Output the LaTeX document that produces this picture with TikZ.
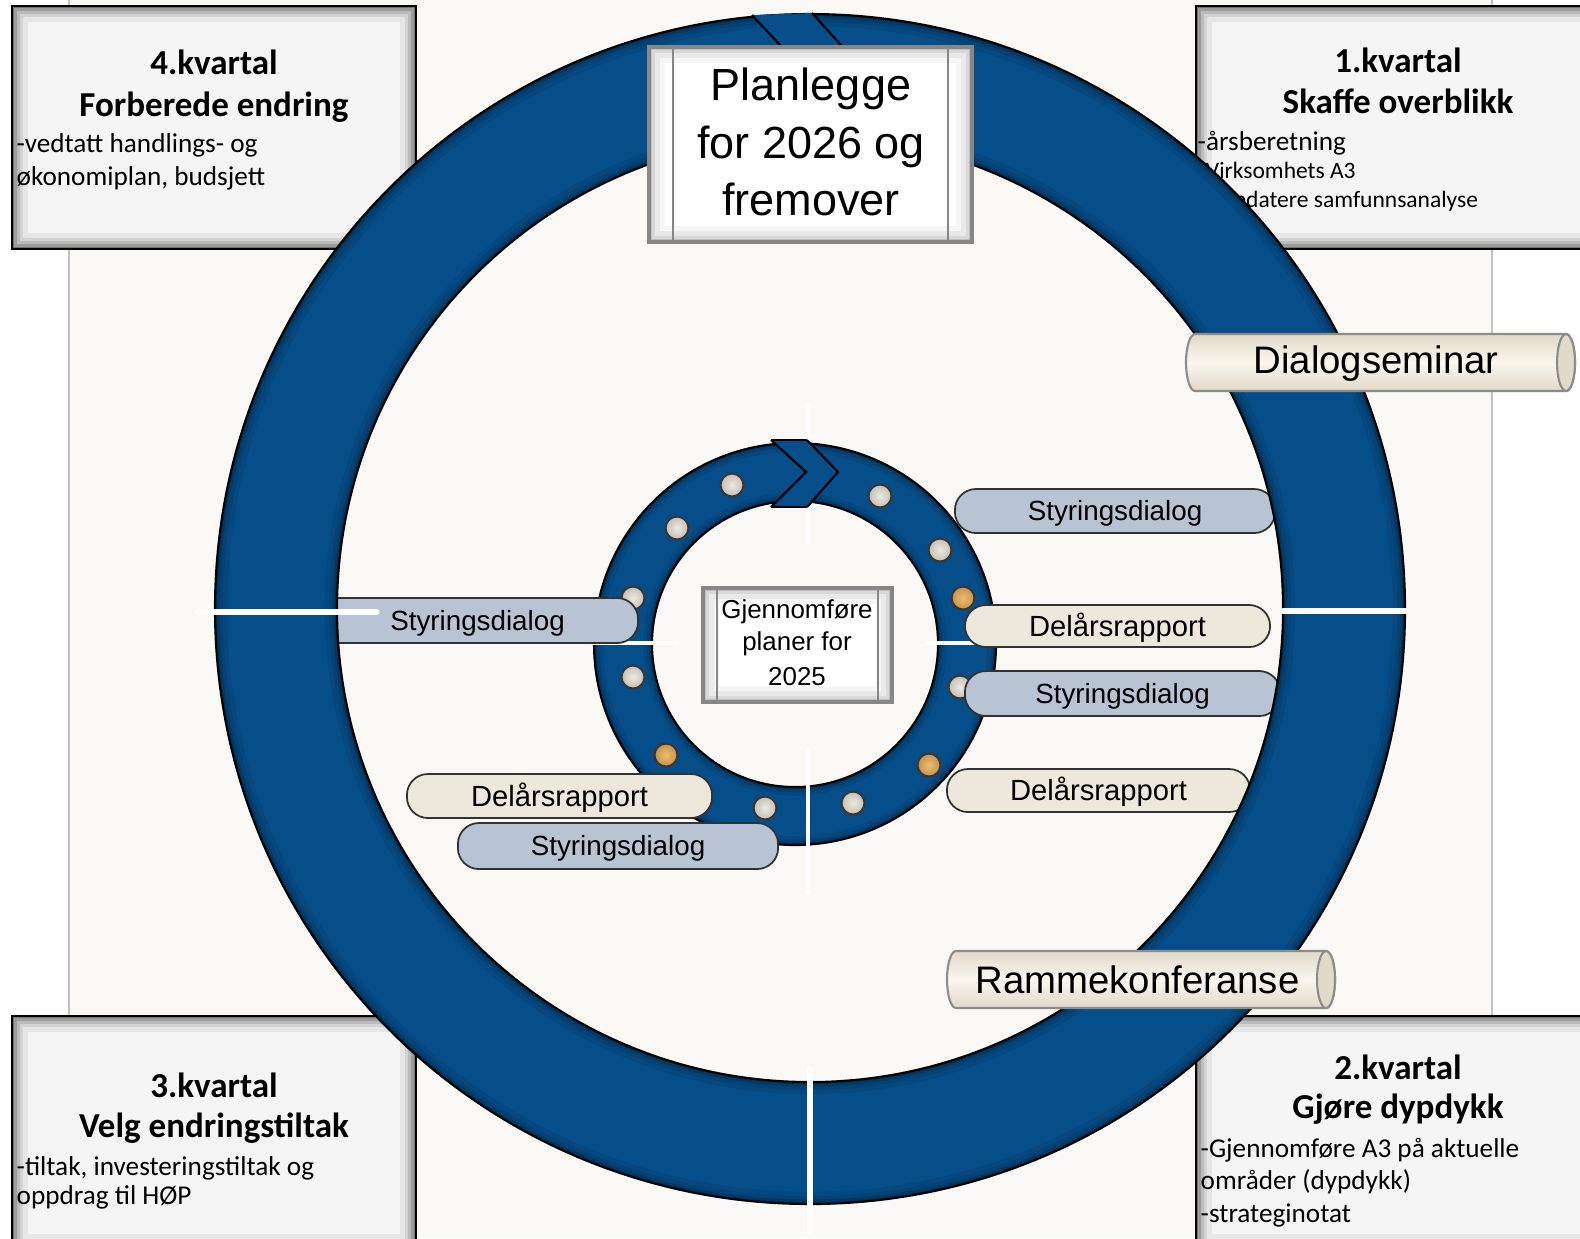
\documentclass[tikz,border=0pt]{standalone}
\usepackage{fontspec}
\setmainfont{Carlito}
\newfontfamily\sansv{Liberation Sans}
\definecolor{ringblue}{RGB}{6,78,138}
\definecolor{panel}{RGB}{250,249,245}
\definecolor{panelline}{RGB}{192,192,192}
\definecolor{pillblue}{RGB}{184,195,211}
\definecolor{pillbeige}{RGB}{236,232,220}
\definecolor{pilledge}{RGB}{50,50,50}
\definecolor{dotgrey}{RGB}{196,191,178}
\definecolor{dotlight}{RGB}{236,234,228}
\definecolor{dotorange}{RGB}{200,145,70}
\definecolor{dotorangel}{RGB}{236,190,115}
\definecolor{dotedge}{RGB}{55,55,55}
\definecolor{boxfill}{RGB}{245,245,245}
\definecolor{tubeedge}{RGB}{140,140,140}
\definecolor{tubedark}{RGB}{224,218,200}
\definecolor{tubelight}{RGB}{250,247,238}
\definecolor{framegrey}{RGB}{135,135,135}
\begin{document}
\begin{tikzpicture}[x=0.01cm,y=-0.01cm,
  ttl/.style={inner sep=0pt, anchor=base, font=\fontsize{9.96pt}{12pt}\selectfont\bfseries},
  bdy/.style={inner sep=0pt, anchor=base west, font=\fontsize{7.74pt}{9.3pt}\selectfont},
  bdys/.style={inner sep=0pt, anchor=base west, font=\fontsize{6.69pt}{8pt}\selectfont},
  pillS/.style={draw=pilledge, line width=0.5pt, fill=pillblue, inner sep=0pt, rounded corners=0.21cm,
    text height=5.66pt, text depth=0pt, font=\sansv\fontsize{7.9pt}{9pt}\selectfont},
  pillD/.style={draw=pilledge, line width=0.5pt, fill=pillbeige, inner sep=0pt, rounded corners=0.21cm,
    text height=5.94pt, text depth=0pt, font=\sansv\fontsize{8.3pt}{9pt}\selectfont},
  bigtxt/.style={inner sep=0pt, anchor=base, font=\sansv\fontsize{12.8pt}{15pt}\selectfont},
  tubetxt/.style={inner sep=0pt, anchor=base, font=\sansv\fontsize{10.9pt}{13pt}\selectfont},
  ctrtxt/.style={inner sep=0pt, anchor=base, font=\sansv\fontsize{7.37pt}{9pt}\selectfont},
  wline/.style={white, line width=1.5pt, line cap=round},
  wlines/.style={white, line width=1.2pt, line cap=round},
  ringedge/.style={black, line width=0.6pt}
]
\useasboundingbox (0,0) rectangle (1580,1238);
\clip (0,0) rectangle (1580,1238);
\fill[white] (0,0) rectangle (1580,1238);
% background panel
\fill[panel] (69,0) rectangle (1492,1238);
\draw[panelline, line width=0.5pt] (69,0) -- (69,1238) (1492,0) -- (1492,1238);

% corner boxes
\newcommand\qbox[4]{%
  \fill[boxfill] (#1,#2) rectangle (#3,#4);
  \begin{scope}
    \clip (#1,#2) rectangle (#3,#4);
    \draw[black, opacity=0.06, line width=9pt] (#1,#2) rectangle (#3,#4);
    \draw[black, opacity=0.08, line width=6.5pt] (#1,#2) rectangle (#3,#4);
    \draw[black, opacity=0.11, line width=4.5pt] (#1,#2) rectangle (#3,#4);
    \draw[black, opacity=0.16, line width=2.8pt] (#1,#2) rectangle (#3,#4);
    \draw[black, opacity=0.25, line width=1.4pt] (#1,#2) rectangle (#3,#4);
  \end{scope}
  \draw[black, line width=0.8pt] (#1,#2) rectangle (#3,#4);}
\qbox{12}{6}{416}{249}
\qbox{1196}{6}{1600}{249}
\qbox{12}{1016}{416}{1250}
\qbox{1196}{1016}{1600}{1250}

\node[ttl] (tl1) at (214,74) {4.kvartal};
\node[ttl] (tl2) at (214,116) {Forberede endring};
\node[bdy] (tl3) at (16,152) {-vedtatt handlings- og};
\node[bdy] (tl4) at (16,185) {økonomiplan, budsjett};

\node[ttl] (tr1) at (1398,72) {1.kvartal};
\node[ttl] (tr2) at (1398,113) {Skaffe overblikk};
\node[bdy] (tr3) at (1197,150) {-årsberetning};
\node[bdys] (tr4) at (1198,178) {-Virksomhets A3};
\node[bdys] (tr5) at (1198,207) {-Oppdatere samfunnsanalyse};

\node[ttl] (bl1) at (214,1097) {3.kvartal};
\node[ttl] (bl2) at (214,1137) {Velg endringstiltak};
\node[bdy] (bl3) at (16,1175) {-tiltak, investeringstiltak og};
\node[bdy] (bl4) at (16,1204) {oppdrag til HØP};

\node[ttl] (br1) at (1398,1079) {2.kvartal};
\node[ttl] (br2) at (1398,1118) {Gjøre dypdykk};
\node[bdy] (br3) at (1200,1157) {-Gjennomføre A3 på aktuelle};
\node[bdy] (br4) at (1200,1189) {områder (dypdykk)};
\node[bdy] (br5) at (1200,1222) {-strateginotat};

% inner ring
\fill[ringblue, even odd rule] (795,644) circle[radius=201] (795,644) circle[radius=143];
\begin{scope}[even odd rule]
  \clip (795,644) circle[radius=201] (795,644) circle[radius=143];
  \draw[black, opacity=0.08, line width=5pt] (795,644) circle[radius=201] (795,644) circle[radius=143];
  \draw[black, opacity=0.1, line width=3pt] (795,644) circle[radius=201] (795,644) circle[radius=143];
  \draw[black, opacity=0.15, line width=1.5pt] (795,644) circle[radius=201] (795,644) circle[radius=143];
\end{scope}
\draw[ringedge] (795,644) circle[radius=201] (795,644) circle[radius=143];
% inner ring quarter marks
\draw[wlines] (808,403) -- (808,542);
\draw[wlines] (808,752) -- (808,892);
\draw[wlines] (592,643) -- (677,643);
\draw[wlines] (928,643) -- (1005,643);
% inner chevron
\fill[ringblue] (771,440) -- (807,440) -- (838,472) -- (807,507) -- (771,507) -- (806,472) -- cycle;
\draw[ringedge, line join=miter] (771,440) -- (806,472) -- (771,507);
\draw[ringedge, line join=miter] (807,440) -- (838,472) -- (807,507);
\draw[ringedge] (771,440) -- (807,440) (771,507) -- (807,507);

% dots
\foreach \x/\y in {732/485, 677/528, 633/598, 633/677, 765/808, 853/803, 960/687, 940/550, 880/496}{
  \shade[inner color=dotlight, outer color=dotgrey] (\x,\y) circle[radius=11.5];
  \draw[dotedge, line width=0.6pt] (\x,\y) circle[radius=11.5];
}
\foreach \x/\y in {666/755, 929/765, 963/598}{
  \shade[inner color=dotorangel, outer color=dotorange] (\x,\y) circle[radius=11.5];
  \draw[dotedge, line width=0.6pt] (\x,\y) circle[radius=11.5];
}

% pills
\node[pillS, minimum width=3.21cm, minimum height=0.45cm] (p5) at (477.5,620.5) {Styringsdialog};
\node[pillS, minimum width=3.20cm, minimum height=0.44cm] (p1) at (1115,511) {Styringsdialog};
\node[pillD, minimum width=3.05cm, minimum height=0.42cm] (p2) at (1117.5,626) {Delårsrapport};
\node[pillS, minimum width=3.15cm, minimum height=0.45cm] (p3) at (1122.5,693.5) {Styringsdialog};
\node[pillD, minimum width=3.03cm, minimum height=0.43cm] (p4) at (1098.5,790.5) {Delårsrapport};
\node[pillD, minimum width=3.05cm, minimum height=0.44cm] (p6) at (559.5,796) {Delårsrapport};
\node[pillS, minimum width=3.20cm, minimum height=0.46cm] (p7) at (618,846) {Styringsdialog};

% big ring
\fill[ringblue, even odd rule] (810,609) circle[radius=595] (810,609) circle[radius=473];
\begin{scope}[even odd rule]
  \clip (810,609) circle[radius=595] (810,609) circle[radius=473];
  \draw[black, opacity=0.07, line width=7pt] (810,609) circle[radius=595] (810,609) circle[radius=473];
  \draw[black, opacity=0.09, line width=4.5pt] (810,609) circle[radius=595] (810,609) circle[radius=473];
  \draw[black, opacity=0.12, line width=2.5pt] (810,609) circle[radius=595] (810,609) circle[radius=473];
  \draw[black, opacity=0.18, line width=1.2pt] (810,609) circle[radius=595] (810,609) circle[radius=473];
\end{scope}
\draw[ringedge] (810,609) circle[radius=595] (810,609) circle[radius=473];
% big chevron at top
\fill[ringblue] (752,15) -- (812,13) -- (868,75) -- (812,137) -- (752,137) -- (808,75) -- cycle;
\draw[ringedge] (752,15) -- (808,75) -- (752,137);
\draw[ringedge] (812,13) -- (868,75) -- (812,137);
% big ring quarter marks
\draw[wline] (197,612) -- (377,612);
\draw[wline] (1283,611) -- (1406,611);
\draw[wline] (810,1068) -- (810,1232);

% cylinders
\shade[top color=tubedark, bottom color=tubedark, middle color=tubelight]
  (1195,334) -- (1566,334) arc[start angle=-90, end angle=90, x radius=9, y radius=28.5]
  -- (1195,391) arc[start angle=90, end angle=270, x radius=9, y radius=28.5] -- cycle;
\draw[tubeedge, line width=0.6pt]
  (1195,334) -- (1566,334) arc[start angle=-90, end angle=90, x radius=9, y radius=28.5]
  -- (1195,391) arc[start angle=90, end angle=270, x radius=9, y radius=28.5] -- cycle;
\fill[tubedark] (1566,362.5) ellipse[x radius=9, y radius=28.5];
\draw[tubeedge, line width=0.6pt] (1566,362.5) ellipse[x radius=9, y radius=28.5];
\node[tubetxt] (dialog) at (1376,373) {Dialogseminar};

\shade[top color=tubedark, bottom color=tubedark, middle color=tubelight]
  (956,951) -- (1326,951) arc[start angle=-90, end angle=90, x radius=9, y radius=28.5]
  -- (956,1008) arc[start angle=90, end angle=270, x radius=9, y radius=28.5] -- cycle;
\draw[tubeedge, line width=0.6pt]
  (956,951) -- (1326,951) arc[start angle=-90, end angle=90, x radius=9, y radius=28.5]
  -- (956,1008) arc[start angle=90, end angle=270, x radius=9, y radius=28.5] -- cycle;
\fill[tubedark] (1326,979.5) ellipse[x radius=9, y radius=28.5];
\draw[tubeedge, line width=0.6pt] (1326,979.5) ellipse[x radius=9, y radius=28.5];
\node[tubetxt] (ramme) at (1137.5,993) {Rammekonferanse};

% framed boxes
\newcommand\fbx[6]{%
  \fill[white] (#1,#2) rectangle (#3,#4);
  \begin{scope}
    \clip (#1,#2) rectangle (#3,#4);
    \draw[black, opacity=0.035, line width=9pt] (#1,#2) rectangle (#3,#4);
    \draw[black, opacity=0.05, line width=6pt] (#1,#2) rectangle (#3,#4);
    \draw[black, opacity=0.07, line width=3.5pt] (#1,#2) rectangle (#3,#4);
    \draw[black, opacity=0.1, line width=1.5pt] (#1,#2) rectangle (#3,#4);
  \end{scope}
  \draw[framegrey, line width=0.9pt] (#1,#2) rectangle (#3,#4);
  \draw[framegrey, line width=0.7pt] (#5,#2) -- (#5,#4) (#6,#2) -- (#6,#4);}
\fbx{649}{47}{972}{242}{673}{948}
\node[bigtxt] (plan1) at (811,100) {Planlegge};
\node[bigtxt] (plan2) at (811,158) {for 2026 og};
\node[bigtxt] (plan3) at (811,215) {fremover};

\fbx{703}{588}{892}{702}{717}{878}
\node[ctrtxt] (g1) at (797,618) {Gjennomføre};
\node[ctrtxt] (g2) at (797,650) {planer for};
\node[ctrtxt] (g3) at (797,685) {2025};
\end{tikzpicture}
\end{document}
